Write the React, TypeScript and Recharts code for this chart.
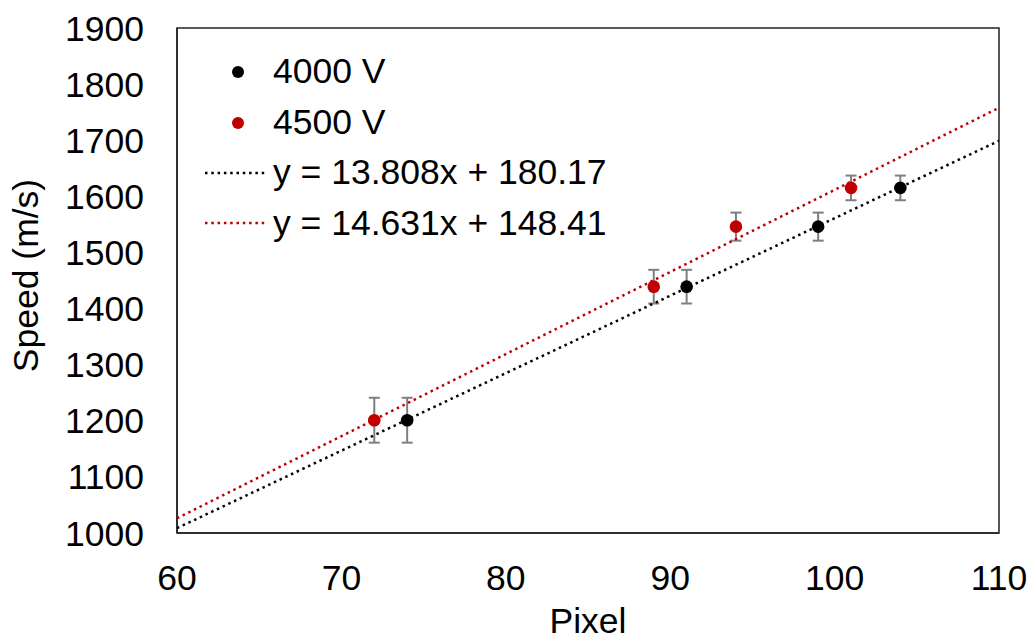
import React from 'react';
import {
  ScatterChart,
  Scatter,
  XAxis,
  YAxis,
  ErrorBar,
  ReferenceArea,
} from 'recharts';

// ---- data ----
const pixel4000 = [74, 91, 99, 104];
const speed4000 = [1201, 1439, 1546, 1615];
const err4000 = [40, 30, 25, 22];

const pixel4500 = [72, 89, 94, 101];
const speed4500 = [1201, 1439, 1546, 1615];
const err4500 = [40, 30, 25, 22];

// trendline end points (from the fitted equations shown in the legend)
const trendX = [60, 110];
const trend4000Y = [1008.65, 1699.05];
const trend4500Y = [1026.27, 1757.82];

const xTicks = [60, 70, 80, 90, 100, 110];
const yTicks = [1000, 1100, 1200, 1300, 1400, 1500, 1600, 1700, 1800, 1900];

const legendItems = [
  { label: '4000 V', color: '#000000', kind: 'dot' },
  { label: '4500 V', color: '#C00000', kind: 'dot' },
  { label: 'y = 13.808x + 180.17', color: '#000000', kind: 'line' },
  { label: 'y = 14.631x + 148.41', color: '#C00000', kind: 'line' },
];

const data4000 = pixel4000.map((x, i) => ({ x, y: speed4000[i], err: err4000[i] }));
const data4500 = pixel4500.map((x, i) => ({ x, y: speed4500[i], err: err4500[i] }));
const trend4000 = trendX.map((x, i) => ({ x, y: trend4000Y[i] }));
const trend4500 = trendX.map((x, i) => ({ x, y: trend4500Y[i] }));

const FONT = '"Liberation Sans", Arial, sans-serif';
const FS = 35.5;
const RED = '#C00000';

const NoShape = () => <g />;

const makeDot = (color: string) => (p: any) => (
  <circle cx={p.cx} cy={p.cy} r={6.3} fill={color} />
);

const LegendBox = () => (
  <div
    style={{
      position: 'absolute',
      left: 205,
      top: 47,
      fontFamily: FONT,
      fontSize: FS,
      color: '#000',
      lineHeight: 1,
      pointerEvents: 'none',
    }}
  >
    {legendItems.map((it) => (
      <div key={it.label} style={{ display: 'flex', alignItems: 'center', height: 50.4 }}>
        <svg width={60} height={14} style={{ marginRight: 8, display: 'block' }}>
          {it.kind === 'dot' ? (
            <circle cx={33} cy={7} r={6} fill={it.color} />
          ) : (
            <line x1={0} y1={7} x2={60} y2={7} stroke={it.color} strokeWidth={2.5} strokeDasharray="2.5 3.8" />
          )}
        </svg>
        <span style={{ whiteSpace: 'nowrap' }}>{it.label}</span>
      </div>
    ))}
  </div>
);

const YLabel = (props: any) => {
  const vb = props.viewBox || { x: 0, y: 28, width: 177, height: 505 };
  const x = vb.x + 38;
  const y = vb.y + vb.height / 2 - 5;
  return (
    <text
      x={x}
      y={y}
      transform={`rotate(-90, ${x}, ${y})`}
      textAnchor="middle"
      fontFamily={FONT}
      fontSize={FS}
      fill="#000"
    >
      Speed (m/s)
    </text>
  );
};

export default function App() {
  return (
    <div style={{ position: 'absolute', left: 0, top: 0, background: '#fff', width: 1033, height: 641 }}>
      <ScatterChart width={1033} height={641} margin={{ top: 28, right: 34, left: 0, bottom: 0 }}>
        <XAxis
          type="number"
          dataKey="x"
          domain={[60, 110]}
          ticks={xTicks}
          interval={0}
          allowDataOverflow
          height={108}
          tickLine={false}
          tickSize={0}
          tickMargin={32}
          axisLine={{ stroke: '#222', strokeWidth: 1.5 }}
          tick={{ fontSize: FS, fill: '#000', fontFamily: FONT }}
          label={{ value: 'Pixel', position: 'insideBottom', offset: 8, fontSize: FS, fill: '#000', fontFamily: FONT }}
        />
        <YAxis
          type="number"
          dataKey="y"
          domain={[1000, 1900]}
          ticks={yTicks}
          interval={0}
          allowDataOverflow
          width={177}
          tickLine={false}
          tickSize={0}
          tickMargin={33}
          axisLine={{ stroke: '#222', strokeWidth: 1.5 }}
          tick={{ fontSize: FS, fill: '#000', fontFamily: FONT }}
          label={<YLabel />}
        />
        <ReferenceArea x1={60} x2={110} y1={1000} y2={1900} fill="none" stroke="#222" strokeWidth={1.5} />
        <Scatter
          data={trend4000}
          line={{ stroke: '#000', strokeWidth: 2.5, strokeDasharray: '2.5 3.8' }}
          shape={<NoShape />}
          legendType="none"
          isAnimationActive={false}
        />
        <Scatter
          data={trend4500}
          line={{ stroke: RED, strokeWidth: 2.5, strokeDasharray: '2.5 3.8' }}
          shape={<NoShape />}
          legendType="none"
          isAnimationActive={false}
        />
        <Scatter data={data4000} fill="#000" shape={makeDot('#000')} isAnimationActive={false}>
          <ErrorBar dataKey="err" direction="y" width={5.5} stroke="#7F7F7F" strokeWidth={2} />
        </Scatter>
        <Scatter data={data4500} fill={RED} shape={makeDot(RED)} isAnimationActive={false}>
          <ErrorBar dataKey="err" direction="y" width={5.5} stroke="#7F7F7F" strokeWidth={2} />
        </Scatter>
      </ScatterChart>
      <LegendBox />
    </div>
  );
}
